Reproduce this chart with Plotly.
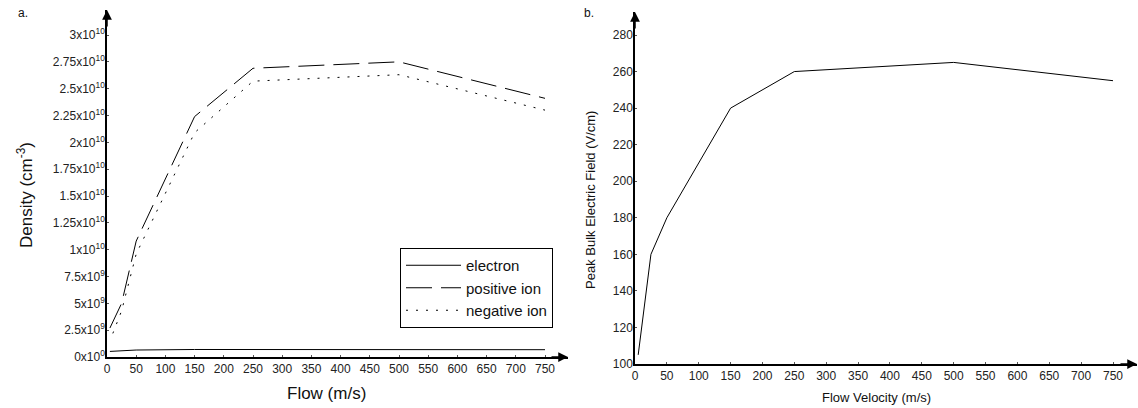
"""
Plasma density and peak bulk field versus gas flow velocity (two panels).
"""

import plotly.graph_objects as go

W, H = 1138, 408
FONT = "Liberation Sans, Arial, sans-serif"

# panel a: species densities (cm^-3) vs flow (m/s)
flow_a = [5, 25, 50, 150, 250, 500, 750]
electron = [0.52e9, 0.56e9, 0.65e9, 0.70e9, 0.70e9, 0.70e9, 0.68e9]
positive_ion = [2.7e9, 5.0e9, 10.8e9, 22.4e9, 26.9e9, 27.5e9, 24.1e9]
flow_neg = [10, 25, 50, 150, 250, 500, 750]
negative_ion = [2.2e9, 4.3e9, 9.6e9, 20.9e9, 25.7e9, 26.3e9, 23.0e9]

density_ticks = [0, 2.5e9, 5e9, 7.5e9, 1e10, 1.25e10, 1.5e10, 1.75e10,
                 2e10, 2.25e10, 2.5e10, 2.75e10, 3e10]
density_labels = ["0x10<sup>0</sup>", "2.5x10<sup>9</sup>", "5x10<sup>9</sup>",
                  "7.5x10<sup>9</sup>", "1x10<sup>10</sup>", "1.25x10<sup>10</sup>",
                  "1.5x10<sup>10</sup>", "1.75x10<sup>10</sup>", "2x10<sup>10</sup>",
                  "2.25x10<sup>10</sup>", "2.5x10<sup>10</sup>", "2.75x10<sup>10</sup>",
                  "3x10<sup>10</sup>"]

# panel b: peak bulk electric field (V/cm) vs flow velocity (m/s)
flow_b = [5, 25, 50, 150, 250, 500, 750]
peak_field = [105, 160, 180, 240, 260, 265, 255]

flow_ticks = list(range(0, 751, 50))
field_ticks = list(range(100, 281, 20))

# pixel geometry of the two frames (origin, a reference tick, arrow tip)
A_X0, A_X750, A_XTIP = 107, 545, 568
A_Y0, A_Y3E10, A_YTIP = 357, 35, 10
B_X0, B_X750, B_XTIP = 635, 1113, 1137
B_Y100, B_Y280, B_YTIP = 364, 35, 12


def px_range(v0, p0, v1, p1, ptip):
    """Data value at the arrow tip given two pixel/value pairs."""
    return v0 + (ptip - p0) * (v1 - v0) / (p1 - p0)


fig = go.Figure()

line = dict(color="black", width=1)
fig.add_trace(go.Scatter(x=flow_a, y=electron, name="electron", mode="lines",
                         line=line, xaxis="x", yaxis="y"))
fig.add_trace(go.Scatter(x=flow_a, y=positive_ion, name="positive ion", mode="lines",
                         line=dict(line, dash="26px,9px"), xaxis="x", yaxis="y"))
fig.add_trace(go.Scatter(x=flow_neg, y=negative_ion, name="negative ion", mode="lines",
                         line=dict(line, dash="2px,8px"), xaxis="x", yaxis="y"))
fig.add_trace(go.Scatter(x=flow_b, y=peak_field, mode="lines", showlegend=False,
                         line=line, xaxis="x2", yaxis="y2"))

axis_common = dict(
    showline=True, linecolor="black", linewidth=1.5, showgrid=False, zeroline=False,
    ticks="inside", ticklen=2, tickcolor="#555", tickwidth=1, automargin=False,
    tickfont=dict(family=FONT, size=12, color="#222"),
)

fig.update_layout(
    template="none",
    width=W, height=H,
    margin=dict(l=0, r=0, t=0, b=0, pad=0),
    paper_bgcolor="white", plot_bgcolor="white",
    font=dict(family=FONT, color="black"),
    xaxis=dict(axis_common, domain=[A_X0 / W, A_XTIP / W],
               range=[0, px_range(0, A_X0, 750, A_X750, A_XTIP)],
               tickvals=flow_ticks, anchor="y", ticklabelstandoff=0),
    yaxis=dict(axis_common, domain=[1 - A_Y0 / H, 1 - A_YTIP / H],
               range=[0, px_range(0, A_Y0, 3e10, A_Y3E10, A_YTIP)],
               tickvals=density_ticks, ticktext=density_labels, anchor="x",
               ticklabelstandoff=-2),
    xaxis2=dict(axis_common, domain=[B_X0 / W, B_XTIP / W],
                range=[0, px_range(0, B_X0, 750, B_X750, B_XTIP)],
                tickvals=flow_ticks, anchor="y2", ticklabelstandoff=0),
    yaxis2=dict(axis_common, domain=[1 - B_Y100 / H, 1 - B_YTIP / H],
                range=[100, px_range(100, B_Y100, 280, B_Y280, B_YTIP)],
                tickvals=field_ticks, anchor="x2", ticklabelstandoff=-2),
    showlegend=True,
    legend=dict(
        x=400 / W, y=1 - 248 / H, xanchor="left", yanchor="top",
        bordercolor="black", borderwidth=1, bgcolor="white",
        font=dict(family=FONT, size=15, color="#111"),
        itemwidth=55, tracegroupgap=0,
    ),
)

# arrowheads at the ends of all four axes
arrow = dict(showarrow=True, arrowhead=2, arrowsize=1.3, arrowwidth=1.5,
             arrowcolor="black", text="", standoff=0)
for xa, ya in [("x", "y"), ("x2", "y2")]:
    fig.add_annotation(arrow, xref=f"{xa} domain", yref=f"{ya} domain",
                       x=0, y=1, ax=0, ay=18)
    fig.add_annotation(arrow, xref=f"{xa} domain", yref=f"{ya} domain",
                       x=1, y=0, ax=-18, ay=0)

# panel letters and axis titles
texts = [
    dict(text="a.", x=23, y=13, size=12, angle=0),
    dict(text="b.", x=589, y=13, size=12, angle=0),
    dict(text="Flow (m/s)", x=326, y=393, size=17, angle=0),
    dict(text="Density (cm<sup>-3</sup>)", x=25, y=195, size=17, angle=-90),
    dict(text="Flow Velocity (m/s)", x=876, y=397, size=13, angle=0),
    dict(text="Peak Bulk Electric Field (V/cm)", x=590, y=200, size=13, angle=-90),
]
for t in texts:
    fig.add_annotation(
        text=t["text"], x=t["x"] / W, y=1 - t["y"] / H, xref="paper", yref="paper",
        showarrow=False, textangle=t["angle"], xanchor="center", yanchor="middle",
        font=dict(family=FONT, size=t["size"], color="#111"),
    )

# drop the browser's default body margin so the figure sits at the page origin
fig.write_html("out.html", config={"displayModeBar": False},
               post_script="document.body.style.margin = '0';")
